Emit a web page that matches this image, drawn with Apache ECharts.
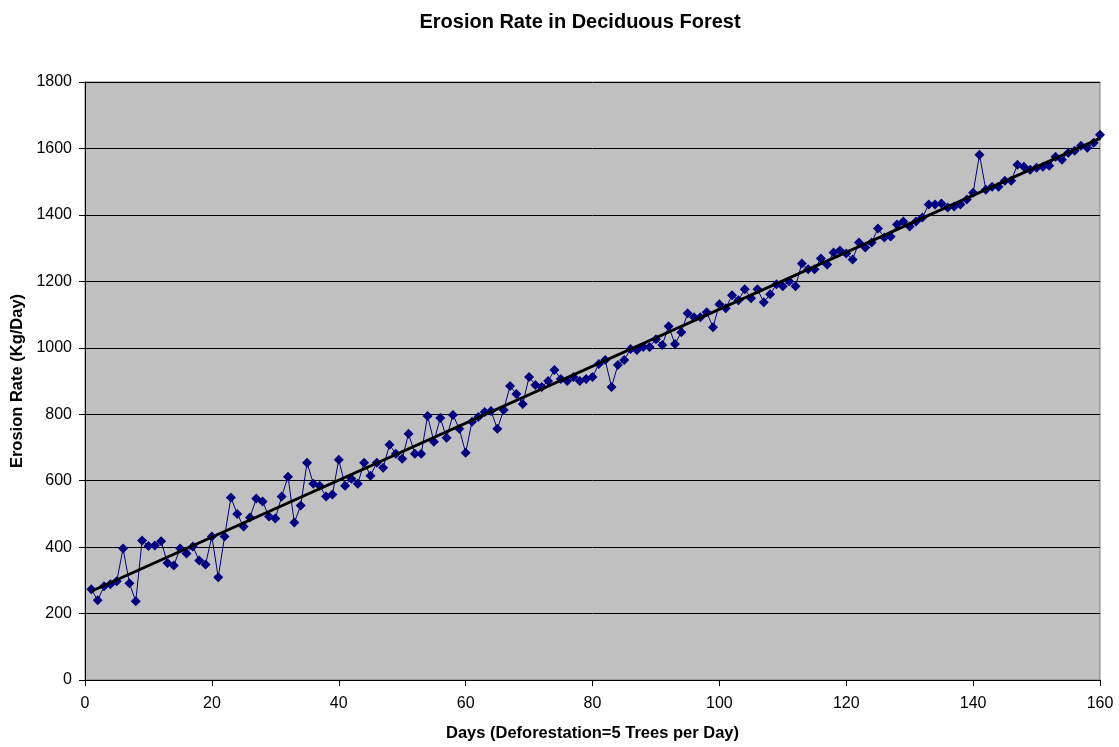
<!DOCTYPE html>
<html>
<head>
<meta charset="utf-8">
<script src="https://cdn.jsdelivr.net/npm/echarts@6/dist/echarts.min.js"></script>
<style>html,body{margin:0;padding:0;background:#fff}#c{width:1119px;height:747px}</style>
</head>
<body>
<div id="c"></div>
<script>
var title = 'Erosion Rate in Deciduous Forest';
var xName = 'Days (Deforestation=5 Trees per Day)';
var yName = 'Erosion Rate (Kg/Day)';
var days = [];
for (var d = 1; d <= 160; d++) days.push(d);
var erosion = [
 273,240,282,288,297,396,291,237,420,403,
 405,418,352,345,396,381,402,360,348,432,
 309,432,549,500,462,489,546,537,492,486,
 552,612,474,525,654,591,585,552,558,663,
 585,606,591,654,615,654,639,708,681,666,
 741,681,681,795,717,789,729,798,756,684,
 777,792,807,810,756,813,885,861,831,912,
 888,882,900,933,906,900,912,900,906,912,
 951,963,882,948,963,996,993,1002,1002,1026,
 1008,1065,1011,1047,1104,1092,1092,1107,1062,1131,
 1119,1158,1143,1176,1149,1176,1137,1161,1191,1185,
 1200,1185,1254,1236,1236,1269,1251,1287,1293,1284,
 1266,1317,1302,1317,1359,1332,1335,1371,1380,1365,
 1380,1392,1431,1431,1434,1422,1425,1431,1446,1467,
 1581,1476,1485,1485,1503,1503,1551,1545,1536,1542,
 1545,1548,1575,1566,1587,1593,1608,1602,1617,1641
];
var xTicks = [0,20,40,60,80,100,120,140,160];
var yTicks = [0,200,400,600,800,1000,1200,1400,1600,1800];

// linear trend (least squares) from the data
var n = days.length, sx=0, sy=0, sxx=0, sxy=0;
for (var i=0;i<n;i++){sx+=days[i];sy+=erosion[i];sxx+=days[i]*days[i];sxy+=days[i]*erosion[i];}
var b = (n*sxy - sx*sy)/(n*sxx - sx*sx);
var a = (sy - b*sx)/n;
var trend = [[days[0], a+b*days[0]],[days[n-1], a+b*days[n-1]]];

var chart = echarts.init(document.getElementById('c'));
var font = 'Liberation Sans, Arial, sans-serif';
chart.setOption({
  animation:false,
  backgroundColor:'#ffffff',
  title:{text:title,left:575,textAlign:'center',top:7,textStyle:{fontFamily:font,fontSize:20,fontWeight:'bold',color:'#000'}},
  grid:{left:85,right:19,top:82,bottom:65,show:true,backgroundColor:'#C0C0C0',borderColor:'#808080',borderWidth:1},
  xAxis:{type:'value',min:xTicks[0],max:xTicks[xTicks.length-1],interval:20,
    name:xName,nameLocation:'middle',nameGap:45,
    nameTextStyle:{fontFamily:font,fontSize:16.5,fontWeight:'bold',color:'#000'},
    axisLine:{onZero:false,lineStyle:{color:'#000',width:1}},
    axisTick:{show:true,length:6,inside:false,lineStyle:{color:'#000'}},
    axisLabel:{fontFamily:font,fontSize:16,color:'#000',margin:16},
    splitLine:{show:false}},
  yAxis:{type:'value',min:yTicks[0],max:yTicks[yTicks.length-1],interval:200,
    name:yName,nameLocation:'middle',nameGap:59,nameRotate:90,
    nameTextStyle:{fontFamily:font,fontSize:16.5,fontWeight:'bold',color:'#000'},
    axisLine:{show:true,lineStyle:{color:'#000',width:1}},
    axisTick:{show:true,length:6,lineStyle:{color:'#000'}},
    axisLabel:{fontFamily:font,fontSize:16,color:'#000',margin:13,formatter:function(v){return String(v);}},
    splitLine:{show:true,lineStyle:{color:'#000',width:1}}},
  series:[
    {type:'line',data:days.map(function(d,i){return [d,erosion[i]];}),
     symbol:'diamond',symbolSize:[10,10],showAllSymbol:true,
     itemStyle:{color:'#000080'},lineStyle:{color:'#000080',width:1},z:2},
    {type:'line',data:trend,symbol:'none',lineStyle:{color:'#000',width:3},z:3}
  ]
});
</script>
</body>
</html>
